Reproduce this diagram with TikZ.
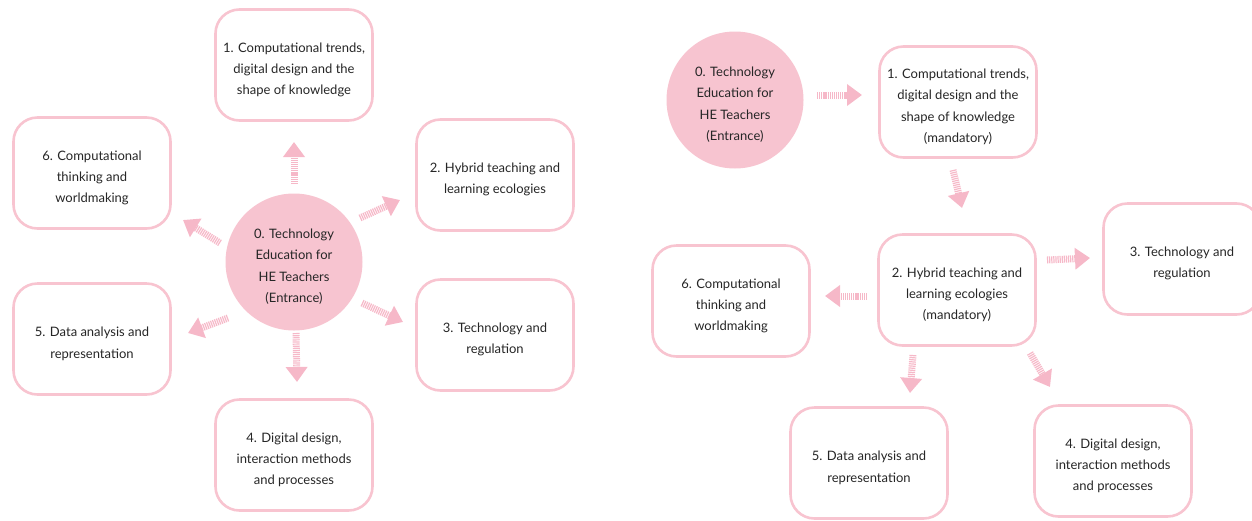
\documentclass[tikz,border=0pt]{standalone}
\usepackage{fontspec}
\setmainfont{Lato}
\usetikzlibrary{arrows.meta,calc}
\definecolor{pinkline}{RGB}{248,196,208}
\definecolor{pinkfill}{RGB}{247,196,208}
\definecolor{pinkarrow}{RGB}{246,184,200}
\newcommand\topstrut{\rule{0pt}{19pt}}
\tikzset{
  box/.style={draw=pinkline, line width=2.6pt, rounded corners=24pt, fill=white,
    minimum width=157pt, minimum height=111pt, align=center,
    font=\fontsize{13}{21.3}\selectfont, text=black!85},
  hub/.style={circle, fill=pinkfill, minimum size=137pt, inner sep=0pt, align=center,
    font=\fontsize{13}{21.3}\selectfont, text=black!85},
  arr/.style={draw=pinkarrow, line width=7pt, dash pattern=on 1.2pt off 0.9pt,
    -{Triangle[width=21pt,length=15pt]}, shorten >=0pt}
}
\begin{document}
\begin{tikzpicture}[x=1pt,y=-1pt]
\useasboundingbox (0,0) rectangle (1252,520);
\begin{scope}
\clip (0,0) rectangle (1252,520);
% left diagram
\node[hub] (L0) at (294,262) {\topstrut 0. Technology\\Education for\\HE Teachers\\(Entrance)};
\node[box] (L1) at (294,65) {\topstrut 1. Computational trends,\\digital design and the\\shape of knowledge};
\node[box] (L2) at (495,175) {\topstrut 2. Hybrid teaching and\\learning ecologies};
\node[box] (L3) at (495,335) {\topstrut 3. Technology and\\regulation};
\node[box] (L4) at (294,455) {\topstrut 4. Digital design,\\interaction methods\\and processes};
\node[box] (L5) at (92,339) {\topstrut 5. Data analysis and\\representation};
\node[box] (L6) at (92,173) {\topstrut 6. Computational\\thinking and\\worldmaking};
% right diagram
\node[hub] (R0) at (735,100) {\topstrut 0. Technology\\Education for\\HE Teachers\\(Entrance)};
\node[box] (R1) at (958,102) {\topstrut 1. Computational trends,\\digital design and the\\shape of knowledge\\(mandatory)};
\node[box] (R2) at (957,290) {\topstrut 2. Hybrid teaching and\\learning ecologies\\(mandatory)};
\node[box] (R3) at (1182,259) {\topstrut 3. Technology and\\regulation};
\node[box] (R4) at (1113,461) {\topstrut 4. Digital design,\\interaction methods\\and processes};
\node[box] (R5) at (869,463) {\topstrut 5. Data analysis and\\representation};
\node[box] (R6) at (731,301) {\topstrut 6. Computational\\thinking and\\worldmaking};
\end{scope}
% left arrows
\draw[arr] ($(L0)+(0,-78)$) -- ($(L1)+(0,77)$);
\draw[arr] ($(L0)+(66,-44)$) -- ($(L2)+(-95,25)$);
\draw[arr] ($(L0)+(68,41)$) -- ($(L3)+(-92,-13)$);
\draw[arr] ($(L0)+(2,71)$) -- ($(L4)+(3,-73)$);
\draw[arr] ($(L0)+(-66,56)$) -- ($(L5)+(96,-6)$);
\draw[arr] ($(L0)+(-74,-19)$) -- ($(L6)+(91,47)$);
% right arrows
\draw[arr] ($(R0)+(82,-5)$) -- ($(R1)+(-96,-7)$);
\draw[arr] ($(R1)+(-5,68)$) -- ($(R2)+(5,-82)$);
\draw[arr] ($(R2)+(90,-30)$) -- ($(R3)+(-92,-1)$);
\draw[arr] ($(R2)+(-90,6)$) -- ($(R6)+(94,-5)$);
\draw[arr] ($(R2)+(-44,65)$) -- ($(R5)+(41,-70)$);
\draw[arr] ($(R2)+(73,63)$) -- ($(R4)+(-63,-74)$);
\end{tikzpicture}
\end{document}
